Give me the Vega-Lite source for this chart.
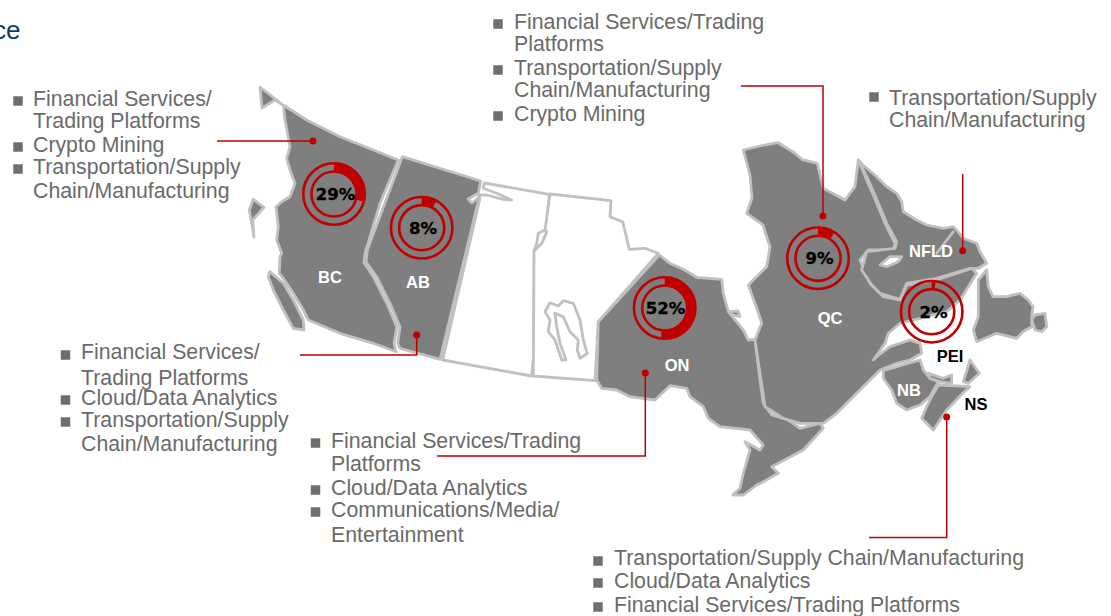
{"$schema":"https://vega.github.io/schema/vega-lite/v6.json","width":1111,"height":616,"autosize":{"type":"none"},"padding":0,"background":"white","view":{"stroke":null},"config":{"axis":{"disable":true},"legend":{"disable":true}},
"datasets":{
"regions":[
{"type":"Feature","properties":{"name":"SK","kind":"white"},"geometry":{"type":"Polygon","coordinates":[[[484.3,183],[549.3,194.3],[531.7,376],[442.7,360],[480,198.3],[478.3,195],[486.7,195],[503.3,199.3],[511.7,200],[496.7,193.3],[483.3,188.3],[484.3,183]]]}},
{"type":"Feature","properties":{"name":"MB","kind":"white"},"geometry":{"type":"Polygon","coordinates":[[[550,194],[611,200.7],[610,216.7],[622.7,221.7],[629.3,249.3],[645,248.3],[658.3,253.3],[598.3,321.7],[595,380.7],[533.3,376],[534,250.7],[541.7,243.3],[546.7,231.7],[545,230],[550,194]]]}},
{"type":"Feature","properties":{"name":"Reindeer","kind":"white"},"geometry":{"type":"Polygon","coordinates":[[[545,230],[538.3,233.3],[536.7,243.3],[534,250.7],[541.7,243.3],[546.7,231.7],[545,230]]]}},
{"type":"Feature","properties":{"name":"Winnipeg","kind":"white"},"geometry":{"type":"Polygon","coordinates":[[[545,311.7],[550,302.7],[558.3,306],[563.3,300.7],[573.3,303.3],[580,320],[583.3,340],[587.3,353.3],[580,358.3],[577.3,350],[578.3,340],[570,331.7],[563.3,316.7],[555,313.3],[556.7,326.7],[560,343.3],[566,360],[561.7,360],[555,340],[548.3,331.7],[550,320],[545,311.7]]]}},
{"type":"Feature","properties":{"name":"BC","kind":"grey"},"geometry":{"type":"MultiPolygon","coordinates":[[[[283.3,105],[306.7,120],[340,136.7],[373.3,150],[398.3,160],[380,203.3],[365,253.3],[364,262.7],[373.3,276.7],[386.7,303.3],[396.7,326.7],[394,343.3],[396,351.7],[373.3,343.3],[340,333.3],[308.3,320],[303.3,310],[293.3,293.3],[283.3,278.3],[279.3,273.3],[280,256.7],[281.7,253.3],[276.7,240],[278.3,226.7],[276,206.7],[281.7,201.7],[290,196.7],[295,183.3],[290,170],[286.7,158.3],[290,146.7],[285,120],[283.3,105]]],[[[260,87],[283,105],[275,100],[262,108],[260,87]]],[[[253.3,199.3],[264,207.3],[252.7,220],[254,237],[252,225],[249.3,210],[253.3,199.3]]],[[[270,271.7],[283.3,283.3],[293.3,300],[303.3,320],[304,330],[293.3,328.3],[283.3,310],[273.3,290],[268.3,276.7],[270,271.7]]]]}},
{"type":"Feature","properties":{"name":"AB","kind":"grey"},"geometry":{"type":"Polygon","coordinates":[[[402.3,156.7],[480.7,181],[478.3,193.3],[468,199],[472,203],[479.3,197],[440,359.3],[400,348.3],[397.7,343.3],[400,326.7],[390,303.3],[376.7,276.7],[366,261.7],[367.3,250],[402.3,156.7]]]}},
{"type":"Feature","properties":{"name":"ON","kind":"grey"},"geometry":{"type":"MultiPolygon","coordinates":[[[[659.3,255],[670,263.3],[683.3,269.3],[696.7,277.3],[721.7,279.3],[723.3,293.3],[728.3,311.7],[743.3,330],[748.3,340],[755,339.3],[760,380],[763.3,403.3],[771.7,415],[788.3,420],[800,428.3],[820,423.3],[823.3,428.3],[803.3,450],[771.7,466.7],[778.3,473.3],[763.3,481.7],[756.7,485],[743.3,495],[732.7,495],[740,488.3],[743.3,473.3],[750,450],[745,441.7],[760,450],[763.3,445],[750,430],[720,426.7],[708.3,418.3],[703.3,406.7],[690,396.7],[686.7,388.3],[670,385.7],[655,400],[630,396.7],[616.7,390],[601.7,388.3],[596.7,380],[598.3,321.7],[659.3,255]]],[[[728.3,311.7],[738,311],[740,316.7],[733,315],[728.3,311.7]]]]}},
{"type":"Feature","properties":{"name":"QC","kind":"grey"},"geometry":{"type":"Polygon","coordinates":[[[743.3,150],[760,146],[773.3,143.3],[778.3,142.7],[795,153.3],[801.7,159.3],[817.3,163.3],[823.3,188.3],[845,200],[855,186.7],[858.3,160],[866.7,180],[873.3,195],[885,223.3],[895,243.3],[893.3,250],[868.3,250],[860,260],[870,283.3],[883.3,296.7],[900,300],[906.7,285],[936.7,280],[971.7,268.3],[976.7,273.3],[968.3,286.7],[960,300],[946.7,311.7],[920,318.3],[900,323.3],[888.3,333.3],[885,343.3],[873.3,360],[876.7,356.7],[890,346.7],[910,340],[920,343.3],[921.7,353.3],[910,360],[896.7,363.3],[880,370],[870,380],[836.7,413.3],[823.3,423.3],[800,423.3],[783.3,418.3],[765,406.7],[755,340],[761.7,323],[756,306],[748.3,285],[766.7,266.7],[770,247],[763,225],[746.7,213.3],[752,198],[750,175],[743.3,150]]]}},
{"type":"Feature","properties":{"name":"NFLD","kind":"grey"},"geometry":{"type":"MultiPolygon","coordinates":[[[[858.3,160],[863,165],[876.7,176.7],[886.7,186.7],[896.7,193.3],[901.7,201.7],[903.3,211.7],[916.7,220],[926.7,225],[943.3,228.3],[953.3,226.7],[956.7,230],[963.3,238.3],[976.7,243.3],[980,251.7],[986.7,263.3],[978.3,268.3],[970,268.3],[936.7,278.3],[906.7,283.3],[900,299.3],[880,293.3],[871.7,285],[861.7,270],[866.7,251.7],[895,248.3],[896.7,241.7],[886.7,223.3],[875,195],[868.3,180],[858.3,160]]],[[[986.7,270],[988.3,286.7],[993,296.7],[1006.7,296.7],[1020,293.3],[1028.3,300],[1033,306.7],[1031.7,316.7],[1031.7,326.7],[1023,331.7],[1016.7,338.3],[996.7,333.3],[976.7,341.7],[973.3,330],[978.3,316.7],[978.3,280],[986.7,270]]],[[[1031.7,320],[1035,315],[1045,313.3],[1046.7,326.7],[1041.7,331.7],[1035,330],[1031.7,320]]]]}},
{"type":"Feature","properties":{"name":"Smallwood","kind":"white"},"geometry":{"type":"Polygon","coordinates":[[[880,265],[890,256.7],[901.7,256.7],[898.3,261.7],[886.7,266.7],[880,265]]]}},
{"type":"Feature","properties":{"name":"NB","kind":"grey"},"geometry":{"type":"Polygon","coordinates":[[[883.3,370.7],[920,360],[923.3,370],[930,378.3],[938.3,381.7],[930,396.7],[920,405],[906.7,410],[896.7,403.3],[891.7,390],[883.3,378.3],[883.3,370.7]]]}},
{"type":"Feature","properties":{"name":"NS","kind":"grey"},"geometry":{"type":"MultiPolygon","coordinates":[[[[938.3,385],[970,386.7],[963,393],[946.7,410],[933.3,430],[921.7,418.3],[926.7,406.7],[931.7,396.7],[938.3,385]]],[[[970,360],[979.3,373.3],[968.3,383.3],[963.3,381.7],[970,360]]]]}},
{"type":"Feature","properties":{"name":"PEI","kind":"grey"},"geometry":{"type":"Polygon","coordinates":[[[928.3,373.3],[943.3,378.3],[951.7,375],[951.7,383.3],[940,381.7],[930,378.3],[928.3,373.3]]]}},
{"type":"Feature","properties":{"name":"NFLD inner","kind":"grey"},"geometry":{"type":"Polygon","coordinates":[[[936.7,253.3],[953.3,231.7],[936.7,253.3]]]}}
],
"donuts":[
{"region":"BC","share":29,"label":"29%","px":334,"py":194,"start":0},
{"region":"AB","share":8,"label":"8%","px":421.7,"py":227.7,"start":0},
{"region":"ON","share":52,"label":"52%","px":664.7,"py":308,"start":0},
{"region":"QC","share":9,"label":"9%","px":818,"py":258.3,"start":0},
{"region":"PEI","share":2,"label":"2%","px":931.7,"py":311.7,"start":0}
],
"donutLabels":[
{"label":"29%","px":335.5,"py":194.5},
{"label":"8%","px":423,"py":229},
{"label":"52%","px":665.5,"py":308.5},
{"label":"9%","px":819.5,"py":259},
{"label":"2%","px":933.5,"py":312.5}
],
"provinceLabels":[
{"t":"BC","px":330,"py":278,"c":"white"},{"t":"AB","px":418,"py":282.5,"c":"white"},{"t":"ON","px":677,"py":365.5,"c":"white"},{"t":"QC","px":830,"py":319,"c":"white"},{"t":"NFLD","px":931,"py":252,"c":"white"},{"t":"NB","px":909,"py":391,"c":"white"},{"t":"PEI","px":950,"py":357,"c":"black"},{"t":"NS","px":976,"py":405,"c":"black"}
],
"leaders":[
{"id":"BC","o":1,"px":217,"py":141},{"id":"BC","o":2,"px":313,"py":141},
{"id":"AB","o":1,"px":300,"py":355},{"id":"AB","o":2,"px":416.7,"py":355},{"id":"AB","o":3,"px":416.7,"py":335},
{"id":"ON","o":1,"px":437,"py":456},{"id":"ON","o":2,"px":645.3,"py":456},{"id":"ON","o":3,"px":645.3,"py":373},
{"id":"QC","o":1,"px":741,"py":86},{"id":"QC","o":2,"px":823,"py":86},{"id":"QC","o":3,"px":823,"py":216},
{"id":"NFLD","o":1,"px":962.7,"py":174},{"id":"NFLD","o":2,"px":962.7,"py":250.7},
{"id":"NS","o":1,"px":869,"py":537.5},{"id":"NS","o":2,"px":946.7,"py":537.5},{"id":"NS","o":3,"px":946.7,"py":417}
],
"dots":[{"px":313,"py":141},{"px":416.7,"py":335},{"px":645.3,"py":373},{"px":823,"py":216},{"px":962.7,"py":250.7},{"px":946.7,"py":417}],
"lines":[
{"t":"Financial Services/","px":33,"py":100},{"t":"Trading Platforms","px":33,"py":122},{"t":"Crypto Mining","px":33,"py":146},{"t":"Transportation/Supply","px":33,"py":168},{"t":"Chain/Manufacturing","px":33,"py":192},
{"t":"Financial Services/","px":81,"py":353},{"t":"Trading Platforms","px":81,"py":379},{"t":"Cloud/Data Analytics","px":81,"py":399},{"t":"Transportation/Supply","px":81,"py":421},{"t":"Chain/Manufacturing","px":81,"py":445},
{"t":"Financial Services/Trading","px":331,"py":442},{"t":"Platforms","px":331,"py":465},{"t":"Cloud/Data Analytics","px":331,"py":489},{"t":"Communications/Media/","px":331,"py":511},{"t":"Entertainment","px":331,"py":536},
{"t":"Financial Services/Trading","px":514,"py":23},{"t":"Platforms","px":514,"py":45},{"t":"Transportation/Supply","px":514,"py":69},{"t":"Chain/Manufacturing","px":514,"py":91},{"t":"Crypto Mining","px":514,"py":115},
{"t":"Transportation/Supply","px":889,"py":99},{"t":"Chain/Manufacturing","px":889,"py":121},
{"t":"Transportation/Supply Chain/Manufacturing","px":614,"py":559},{"t":"Cloud/Data Analytics","px":614,"py":582},{"t":"Financial Services/Trading Platforms","px":614,"py":606}
],
"bullets":[
{"px":18,"py":101},{"px":18,"py":147},{"px":18,"py":169},
{"px":65.5,"py":355},{"px":65.5,"py":400},{"px":65.5,"py":422},
{"px":315.5,"py":443},{"px":315.5,"py":490},{"px":315.5,"py":512},
{"px":498,"py":24},{"px":498,"py":70},{"px":498,"py":116},
{"px":874,"py":97},
{"px":598,"py":561},{"px":598,"py":583},{"px":598,"py":607}
],
"title":[{"t":"ce","px":-7,"py":31}]
},
"layer":[
{"data":{"name":"regions","format":{"type":"json"}},"mark":{"type":"geoshape","strokeWidth":2.8,"stroke":"#c0c0c0","strokeJoin":"round"},"projection":{"type":"identity","reflectY":false,"scale":1,"translate":[0,0]},"encoding":{"fill":{"field":"properties.kind","type":"nominal","scale":{"domain":["grey","white"],"range":["#7f7f7f","#ffffff"]},"legend":null}}},
{"data":{"name":"leaders"},"mark":{"type":"line","color":"#c00000","strokeWidth":1.5,"interpolate":"linear"},"encoding":{"x":{"field":"px","type":"quantitative","scale":{"domain":[0,1111]},"axis":null},"y":{"field":"py","type":"quantitative","scale":{"domain":[616,0]},"axis":null},"detail":{"field":"id"},"order":{"field":"o"}}},
{"data":{"name":"dots"},"mark":{"type":"circle","color":"#c00000","opacity":1,"size":50},"encoding":{"x":{"field":"px","type":"quantitative","scale":{"domain":[0,1111]},"axis":null},"y":{"field":"py","type":"quantitative","scale":{"domain":[616,0]},"axis":null}}},
{"data":{"name":"donuts"},"mark":{"type":"point","filled":false,"color":"#c00000","strokeWidth":2.6,"opacity":1,"size":3780},"encoding":{"x":{"field":"px","type":"quantitative","scale":{"domain":[0,1111]},"axis":null},"y":{"field":"py","type":"quantitative","scale":{"domain":[616,0]},"axis":null},"shape":{"value":"circle"}}},
{"data":{"name":"donuts"},"mark":{"type":"point","filled":false,"color":"#c00000","strokeWidth":2.6,"opacity":1,"size":2030},"encoding":{"x":{"field":"px","type":"quantitative","scale":{"domain":[0,1111]},"axis":null},"y":{"field":"py","type":"quantitative","scale":{"domain":[616,0]},"axis":null},"shape":{"value":"circle"}}},
{"data":{"name":"donuts"},"mark":{"type":"arc","color":"#c00000","innerRadius":22,"outerRadius":31.5},"encoding":{"x":{"field":"px","type":"quantitative","scale":{"domain":[0,1111]},"axis":null},"y":{"field":"py","type":"quantitative","scale":{"domain":[616,0]},"axis":null},"theta":{"field":"start","type":"quantitative","stack":null,"scale":{"domain":[0,100],"range":[0,6.2832]}},"theta2":{"field":"share"}}},
{"data":{"name":"donutLabels"},"mark":{"type":"text","font":"DejaVu Sans","fontWeight":"bold","fontSize":16.5,"fill":"black","stroke":"black","strokeWidth":0.35,"align":"center","baseline":"middle"},"encoding":{"x":{"field":"px","type":"quantitative","scale":{"domain":[0,1111]},"axis":null},"y":{"field":"py","type":"quantitative","scale":{"domain":[616,0]},"axis":null},"text":{"field":"label"}}},
{"data":{"name":"provinceLabels"},"mark":{"type":"text","font":"Liberation Sans","fontWeight":"bold","fontSize":16.5,"align":"center","baseline":"middle"},"encoding":{"x":{"field":"px","type":"quantitative","scale":{"domain":[0,1111]},"axis":null},"y":{"field":"py","type":"quantitative","scale":{"domain":[616,0]},"axis":null},"text":{"field":"t"},"color":{"field":"c","type":"nominal","scale":null}}},
{"data":{"name":"lines"},"mark":{"type":"text","font":"Liberation Sans","fontSize":21.3,"fill":"#6a6a6a","align":"left","baseline":"middle"},"encoding":{"x":{"field":"px","type":"quantitative","scale":{"domain":[0,1111]},"axis":null},"y":{"field":"py","type":"quantitative","scale":{"domain":[616,0]},"axis":null},"text":{"field":"t"}}},
{"data":{"name":"bullets"},"mark":{"type":"point","shape":"square","filled":true,"color":"#6e6e6e","opacity":1,"size":90},"encoding":{"x":{"field":"px","type":"quantitative","scale":{"domain":[0,1111]},"axis":null},"y":{"field":"py","type":"quantitative","scale":{"domain":[616,0]},"axis":null}}},
{"data":{"name":"title"},"mark":{"type":"text","font":"Liberation Sans","fontSize":26,"fill":"#0b3a6b","align":"left","baseline":"middle"},"encoding":{"x":{"field":"px","type":"quantitative","scale":{"domain":[0,1111]},"axis":null},"y":{"field":"py","type":"quantitative","scale":{"domain":[616,0]},"axis":null},"text":{"field":"t"}}}
]}
